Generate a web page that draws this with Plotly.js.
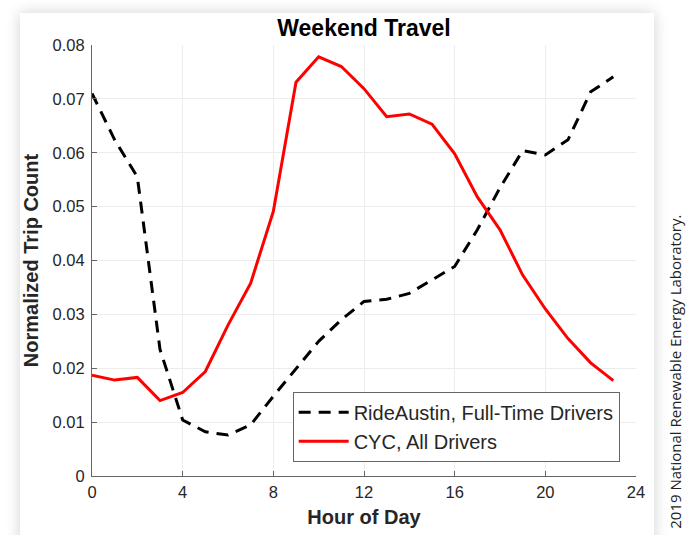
<!DOCTYPE html>
<html>
<head>
<meta charset="utf-8">
<script src="https://cdn.plot.ly/plotly-3.0.1.min.js"></script>
<style>
html,body{margin:0;padding:0;background:#fff;width:689px;height:535px;overflow:hidden;}
#card{position:absolute;left:20px;top:13px;width:634px;height:560px;background:#fff;box-shadow:0 0 14px rgba(0,0,0,0.18);}
#chart{position:absolute;left:0;top:0;width:689px;height:535px;}
</style>
</head>
<body>
<div id="card"></div>
<div id="chart"></div>
<script>
var hours = [0,1,2,3,4,5,6,7,8,9,10,11,12,13,14,15,16,17,18,19,20,21,22,23];
var rideAustin = [0.0710,0.0624,0.0555,0.0235,0.0104,0.0082,0.0076,0.0095,0.0148,0.0200,0.0250,0.0290,0.0324,0.0328,0.0339,0.0364,0.0389,0.0457,0.0535,0.0604,0.0596,0.0624,0.0713,0.0741];
var cyc = [0.0187,0.0178,0.0183,0.0140,0.0155,0.0194,0.0280,0.0358,0.0491,0.0731,0.0778,0.0760,0.0719,0.0667,0.0672,0.0653,0.0598,0.0518,0.0457,0.0373,0.0310,0.0255,0.0210,0.0177];
var xTicks = [0,4,8,12,16,20,24];
var yTicks = [0,0.01,0.02,0.03,0.04,0.05,0.06,0.07,0.08];
var yTickText = ['0','0.01','0.02','0.03','0.04','0.05','0.06','0.07','0.08'];
var seriesNames = ['RideAustin, Full-Time Drivers','CYC, All Drivers'];

var traces = [
  {x: hours, y: rideAustin, name: seriesNames[0], mode: 'lines',
   line: {color: '#000000', width: 3, dash: '12px,8px'}},
  {x: hours, y: cyc, name: seriesNames[1], mode: 'lines',
   line: {color: '#ff0000', width: 3}}
];

var fam = 'Liberation Sans, Arial, sans-serif';
var axisFont = {family: fam, size: 16.5, color: '#262626'};
var layout = {
  width: 689, height: 535,
  paper_bgcolor: 'rgba(0,0,0,0)',
  plot_bgcolor: 'rgba(0,0,0,0)',
  margin: {l: 92, r: 53, t: 45, b: 59},
  showlegend: true,
  title: {text: 'Weekend Travel', x: 0.5, xref: 'paper', xanchor: 'center', y: 0.948, yanchor: 'middle',
          font: {family: fam, size: 23, color: '#000', weight: 'bold'}},
  xaxis: {range: [0, 24], tickvals: xTicks, ticktext: xTicks.map(String),
          showgrid: true, gridcolor: '#ececec', gridwidth: 1,
          zeroline: false, showline: true, linecolor: '#666', linewidth: 1,
          ticks: 'inside', ticklen: 5, tickcolor: '#666', tickfont: axisFont, ticklabelstandoff: 1,
          title: {text: 'Hour of Day', standoff: 10,
                  font: {family: fam, size: 20, color: '#262626', weight: 'bold'}}},
  yaxis: {range: [0, 0.08], tickvals: yTicks, ticktext: yTickText,
          showgrid: true, gridcolor: '#ececec', gridwidth: 1,
          zeroline: false, showline: true, linecolor: '#666', linewidth: 1,
          ticks: 'inside', ticklen: 5, tickcolor: '#666', tickfont: axisFont, ticklabelstandoff: 3,
          title: {text: 'Normalized Trip Count', standoff: 8,
                  font: {family: fam, size: 20, color: '#262626', weight: 'bold'}}},
  legend: {x: 0.97, y: 0.033, xanchor: 'right', yanchor: 'bottom',
           bgcolor: '#ffffff', bordercolor: '#666', borderwidth: 1,
           font: {family: fam, size: 20, color: '#262626'},
           tracegroupgap: 0, itemwidth: 50},
  annotations: [{text: '2019 National Renewable Energy Laboratory.', textangle: -90,
                 xref: 'paper', yref: 'paper', x: 1.0717, y: -0.127, xanchor: 'center', yanchor: 'bottom',
                 showarrow: false, font: {family: 'Open Sans, sans-serif', size: 15, color: '#222'}}]
};
Plotly.newPlot('chart', traces, layout, {displayModeBar: false, staticPlot: true});
</script>
</body>
</html>
